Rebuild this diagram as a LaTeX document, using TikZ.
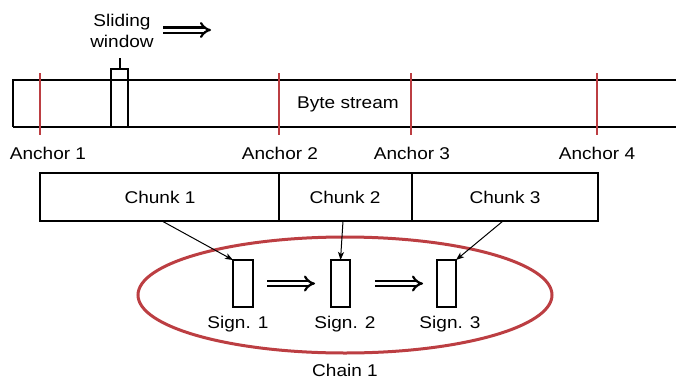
\documentclass[tikz,border=0pt]{standalone}
\usepackage{fontspec}
\setmainfont{Liberation Sans}[FakeStretch=1.12]
\usetikzlibrary{arrows.meta,shapes.geometric}
\definecolor{anc}{RGB}{188,62,66}
\begin{document}
\begin{tikzpicture}[x=1pt,y=-1pt,
  box/.style={draw, line width=2.2pt, inner sep=0pt, outer sep=0pt, anchor=north west},
  lbl/.style={font=\fontsize{17}{21}\selectfont, inner sep=0pt, align=center},
  anchorline/.style={draw=anc, line width=2.8pt},
  link/.style={line width=1pt, -{Stealth[length=8pt,width=6pt,inset=2pt]}},
  bigarrow/.style={double, double distance=3pt, line width=2.2pt, -{Implies[length=6pt,width=14pt]}},
]
\useasboundingbox (0,0) rectangle (676,380);

% byte stream (open on the right)
\coordinate (st1) at (676,80);
\coordinate (st2) at (13,80);
\coordinate (st3) at (13,127);
\coordinate (st4) at (676,127);
\draw[line width=1.8pt] (st1) -- (st2) -- (st3);
\draw[line width=2.6pt] (st3) -- (st4);
\node[lbl] (bytetext) at (348,104) {Byte stream};

% sliding window
\node[box, minimum width=17pt, minimum height=58pt] (win) at (111,69) {};
\coordinate (wintick) at (120,58);
\draw[line width=2pt] (wintick) -- (wintick |- win.north);
\node[lbl] (wintext) at (122,31) {Sliding\\window};
\coordinate (sa) at (163,30);
\coordinate (sb) at (211,30);
\draw[bigarrow] (sa) -- (sb);

% anchors
\foreach \i/\x in {1/40,2/279,3/411,4/597}{
  \coordinate (at\i) at (\x,73);
  \coordinate (ab\i) at (\x,135);
  \draw[anchorline] (at\i) -- (ab\i);
}
\node[lbl] (al1) at (48,153) {Anchor 1};
\node[lbl] (al2) at (280,153) {Anchor 2};
\node[lbl] (al3) at (412,153) {Anchor 3};
\node[lbl] (al4) at (597,153) {Anchor 4};

% chunks
\node[box, minimum width=239pt, minimum height=48pt] (c1) at (40,173) {};
\node[box, minimum width=133pt, minimum height=48pt] (c2) at (279,173) {};
\node[box, minimum width=186pt, minimum height=48pt] (c3) at (412,173) {};
\node[lbl] (c1t) at (160,197) {Chunk 1};
\node[lbl] (c2t) at (345,197) {Chunk 2};
\node[lbl] (c3t) at (505,197) {Chunk 3};

% chain ellipse
\node[draw=anc, ellipse, line width=3pt, inner sep=0pt, minimum width=414pt, minimum height=116pt] (chain) at (345,295) {};
\node[lbl] (chaint) at (345,370) {Chain 1};

% signatures
\node[box, minimum width=20pt, minimum height=47pt] (s1) at (233,260) {};
\node[box, minimum width=19pt, minimum height=47pt] (s2) at (331,260) {};
\node[box, minimum width=19pt, minimum height=47pt] (s3) at (437,260) {};
\node[lbl] (s1t) at (238,324) {Sign. 1};
\node[lbl] (s2t) at (345,324) {Sign. 2};
\node[lbl] (s3t) at (450,324) {Sign. 3};

\draw[bigarrow] ([xshift=14pt]s1.east) -- ([xshift=-16pt]s2.west);
\draw[bigarrow] ([xshift=25pt]s2.east) -- ([xshift=-14pt]s3.west);

% links
\draw[link] ([xshift=2.5pt]c1.south) -- (s1.north west);
\draw[link] ([xshift=-2.5pt]c2.south) -- (s2.north);
\draw[link] ([xshift=-2pt]c3.south) -- (s3.north east);
\end{tikzpicture}
\end{document}
